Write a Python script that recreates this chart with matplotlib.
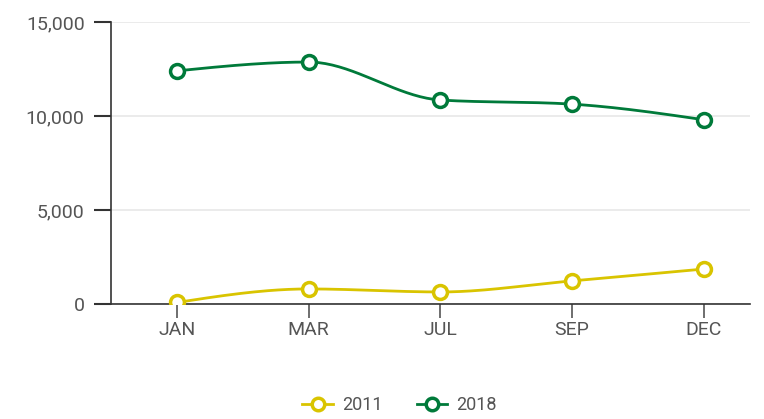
import numpy as np
import matplotlib
matplotlib.use("Agg")
import matplotlib.pyplot as plt
from matplotlib.ticker import FuncFormatter

months = ["JAN", "MAR", "JUL", "SEP", "DEC"]
values_2011 = [80, 800, 640, 1230, 1860]
values_2018 = [12400, 12870, 10850, 10630, 9800]
series_names = ["2011", "2018"]
series_colors = ["#d9c400", "#007a3a"]

plt.rcParams["font.family"] = ["Roboto", "DejaVu Sans"]


def monotone_x(x, y, n=40):
    # d3-style monotone cubic interpolation
    x = np.asarray(x, float)
    y = np.asarray(y, float)
    h = np.diff(x)
    s = np.diff(y) / h
    t = np.zeros(len(x))
    for i in range(1, len(x) - 1):
        p = (s[i - 1] * h[i] + s[i] * h[i - 1]) / (h[i - 1] + h[i])
        t[i] = (np.sign(s[i - 1]) + np.sign(s[i])) * min(abs(s[i - 1]), abs(s[i]), 0.5 * abs(p))
    t[0] = (3 * s[0] - t[1]) / 2
    t[-1] = (3 * s[-1] - t[-2]) / 2
    xs, ys = [], []
    for i in range(len(x) - 1):
        u = np.linspace(0, 1, n)
        h00 = 2 * u**3 - 3 * u**2 + 1
        h10 = u**3 - 2 * u**2 + u
        h01 = -2 * u**3 + 3 * u**2
        h11 = u**3 - u**2
        xs.append(x[i] + u * h[i])
        ys.append(h00 * y[i] + h10 * h[i] * t[i] + h01 * y[i + 1] + h11 * h[i] * t[i + 1])
    return np.concatenate(xs), np.concatenate(ys)


fig = plt.figure(figsize=(7.64, 4.19), dpi=100)
ax = fig.add_axes([0.1453, 0.2745, 0.8364, 0.673])

xpos = np.arange(len(months))
handles = []
for vals, name, col in zip([values_2011, values_2018], series_names, series_colors):
    sx, sy = monotone_x(xpos, vals)
    ax.plot(sx, sy, color=col, lw=2, zorder=3)
    ax.plot(xpos, vals, ls="none", marker="o", ms=10, mfc="white", mec=col, mew=2.5, zorder=4)
    h, = ax.plot([], [], color=col, lw=2, marker="o", ms=9, mfc="white", mec=col, mew=2.5, label=name)
    handles.append(h)

ax.set_xlim(-0.5, 4.35)
ax.set_ylim(0, 15000)
ax.set_yticks([0, 5000, 10000, 15000])
ax.yaxis.set_major_formatter(FuncFormatter(lambda v, p: f"{int(v):,}"))
ax.set_xticks(xpos)
ax.set_xticklabels(months)

ax.grid(axis="y", color="#e8e8e8", lw=1.2, zorder=0)
ax.set_axisbelow(True)
for side in ["top", "right"]:
    ax.spines[side].set_visible(False)
ax.spines["left"].set_color("#333333")
ax.spines["bottom"].set_color("#333333")
ax.spines["left"].set_linewidth(1.2)
ax.spines["bottom"].set_linewidth(1.2)
ax.tick_params(axis="y", length=12, width=1.5, color="#333333", labelcolor="#555555", labelsize=14, pad=7)
ax.tick_params(axis="x", length=10, width=1.2, color="#555555", labelcolor="#555555", labelsize=14, pad=2)

fig.legend(handles=handles, loc="center", bbox_to_anchor=(0.523, 0.033), ncol=2, frameon=False,
           fontsize=13, handlelength=1.7, columnspacing=1.9, handletextpad=0.5, labelcolor="#555555")

fig.savefig("out.png", dpi=100)
